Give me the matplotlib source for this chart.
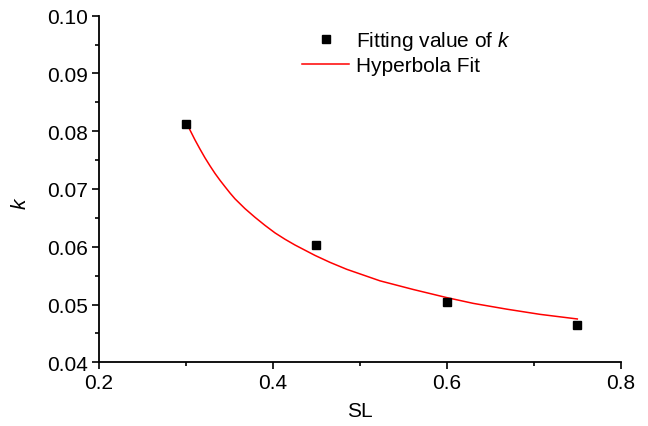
import numpy as np
import matplotlib.pyplot as plt
from matplotlib.ticker import MultipleLocator

plt.rcParams['font.family'] = ['Liberation Sans', 'DejaVu Sans']
plt.rcParams['mathtext.fontset'] = 'custom'
plt.rcParams['mathtext.it'] = 'Liberation Sans:italic'

# measured points
SL = [0.30, 0.45, 0.60, 0.75]
k_val = [0.0813, 0.0603, 0.0505, 0.0464]

# hyperbola fit curve
fit_x = [0.3008, 0.3046, 0.3103, 0.3161, 0.3218, 0.3276, 0.3333, 0.3391,
         0.3448, 0.3506, 0.3563, 0.3678, 0.3793, 0.3908, 0.4023, 0.4138,
         0.4253, 0.4368, 0.4483, 0.4655, 0.4847, 0.5230, 0.5613, 0.5997,
         0.6302, 0.6686, 0.7069, 0.7498]
fit_y = [0.0815, 0.0802, 0.0785, 0.0769, 0.0754, 0.0740, 0.0727, 0.0715,
         0.0704, 0.0693, 0.0683, 0.0666, 0.0651, 0.0637, 0.0624, 0.0613,
         0.0603, 0.0594, 0.0585, 0.0573, 0.0561, 0.0541, 0.0526, 0.0512,
         0.0502, 0.0492, 0.0483, 0.0475]

fig = plt.figure(figsize=(6.48, 4.27), dpi=100)
ax = fig.add_axes([0.1528, 0.1492, 0.8055, 0.8117])

ax.plot(SL, k_val, 's', color='black', markersize=5.5, label='Fitting value of $k$', zorder=3)
ax.plot(fit_x, fit_y, '-', color='red', lw=1.1, label='Hyperbola Fit')

ax.set_xlim(0.2, 0.8)
ax.set_ylim(0.04, 0.10)
ax.xaxis.set_major_locator(MultipleLocator(0.2))
ax.xaxis.set_minor_locator(MultipleLocator(0.1))
ax.yaxis.set_major_locator(MultipleLocator(0.01))
ax.yaxis.set_minor_locator(MultipleLocator(0.005))
ax.xaxis.set_major_formatter(plt.FuncFormatter(lambda v, p: '%.1f' % v))
ax.yaxis.set_major_formatter(plt.FuncFormatter(lambda v, p: '%.2f' % v))

for s in ['top', 'right']:
    ax.spines[s].set_visible(False)
for s in ['left', 'bottom']:
    ax.spines[s].set_linewidth(1.3)

ax.tick_params(which='major', direction='out', length=5, width=1.2, labelsize=15, pad=3)
ax.tick_params(which='minor', direction='out', length=3, width=1.2)

ax.set_xlabel('SL', fontsize=15)
ax.set_ylabel('$k$', fontsize=15)
ax.xaxis.set_label_coords(0.5, -0.112)
ax.yaxis.set_label_coords(-0.132, 0.4625)

ax.legend(loc='upper left', bbox_to_anchor=(0.389, 0.962), frameon=False, fontsize=15,
          borderpad=0, borderaxespad=0, handlelength=2.27, handletextpad=0.32,
          labelspacing=0.2)

fig.savefig('out.png', dpi=100)
